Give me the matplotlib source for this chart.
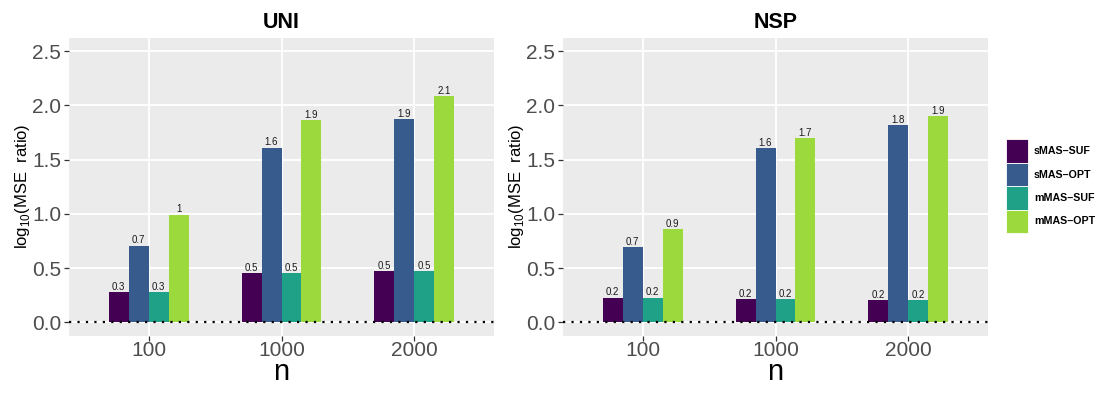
import matplotlib
matplotlib.use("Agg")
import matplotlib.pyplot as plt
from matplotlib.patches import Patch
import numpy as np

plt.rcParams['font.family'] = ['Liberation Sans', 'DejaVu Sans']
plt.rcParams['mathtext.fontset'] = 'custom'
plt.rcParams['mathtext.rm'] = 'Liberation Sans'

# ---- data ----
n_labels = ["100", "1000", "2000"]
methods = ["sMAS–SUF", "sMAS–OPT", "mMAS–SUF", "mMAS–OPT"]
panels = ["UNI", "NSP"]

uni_smas_suf = [0.277, 0.452, 0.473]
uni_smas_opt = [0.707, 1.608, 1.873]
uni_mmas_suf = [0.277, 0.452, 0.473]
uni_mmas_opt = [0.993, 1.863, 2.082]

nsp_smas_suf = [0.228, 0.215, 0.206]
nsp_smas_opt = [0.692, 1.605, 1.815]
nsp_mmas_suf = [0.228, 0.215, 0.206]
nsp_mmas_opt = [0.858, 1.697, 1.900]

panel_data = {
    "UNI": [uni_smas_suf, uni_smas_opt, uni_mmas_suf, uni_mmas_opt],
    "NSP": [nsp_smas_suf, nsp_smas_opt, nsp_mmas_suf, nsp_mmas_opt],
}

colors = [plt.cm.viridis(v) for v in (0.0, 0.2833, 0.5667, 0.85)]

W, H = 1109, 396
fig = plt.figure(figsize=(W / 100, H / 100), dpi=100)

axes_px = {"UNI": (69, 37.5, 425, 298.5), "NSP": (563, 37.5, 425, 298.5)}

bar_w = 0.15
offsets = [-0.225, -0.075, 0.075, 0.225]
x = np.arange(1, len(n_labels) + 1)

for p in panels:
    l, t, w, h = axes_px[p]
    ax = fig.add_axes([l / W, 1 - (t + h) / H, w / W, h / H])
    ax.set_facecolor('#EBEBEB')
    ax.set_axisbelow(True)
    ax.grid(True, color='white', linewidth=1.3)
    for s in ax.spines.values():
        s.set_visible(False)
    for vals, off, c, m in zip(panel_data[p], offsets, colors, methods):
        ax.bar(x + off, vals, width=bar_w, color=c, label=m, zorder=2)
        for xi, v in zip(x + off, vals):
            ax.annotate(f"{round(v, 1):g}", (xi, v), xytext=(0, 0.3),
                        textcoords='offset points', ha='center', va='bottom',
                        fontsize=7, color='#1a1a1a', zorder=4)
    ax.axhline(0, color='black', linewidth=1.6, linestyle=(0, (1, 2.8)), zorder=3)
    ax.set_xlim(0.4, 3.6)
    ax.set_ylim(-0.125, 2.625)
    ax.set_yticks([0.0, 0.5, 1.0, 1.5, 2.0, 2.5])
    ax.set_yticklabels(["0.0", "0.5", "1.0", "1.5", "2.0", "2.5"])
    ax.set_xticks(x)
    ax.set_xticklabels(n_labels)
    ax.tick_params(axis='both', labelsize=15, labelcolor='#4D4D4D', color='#333333',
                   length=3.5, width=0.9)
    ax.tick_params(axis='y', pad=2)
    ax.tick_params(axis='x', pad=0)
    ax.set_title(p, fontsize=15.5, fontweight='bold', pad=7)
    ax.set_xlabel("n", fontsize=21, labelpad=-1)
    ax.set_ylabel(r"log$_{\mathrm{10}}$(MSE  ratio)", fontsize=12, labelpad=0)

handles = [Patch(facecolor=c, edgecolor='white', linewidth=0.6) for c in colors]
fs = 7.7
fig.legend(handles, methods, loc='upper left',
           bbox_to_anchor=(1005.5 / W, 1 - 139.5 / H),
           frameon=False, borderpad=0, borderaxespad=0,
           handlelength=2.06, handleheight=2.98,
           labelspacing=0, handletextpad=0.6,
           prop={'size': fs, 'weight': 'bold'})

fig.savefig("out.png", dpi=100)
